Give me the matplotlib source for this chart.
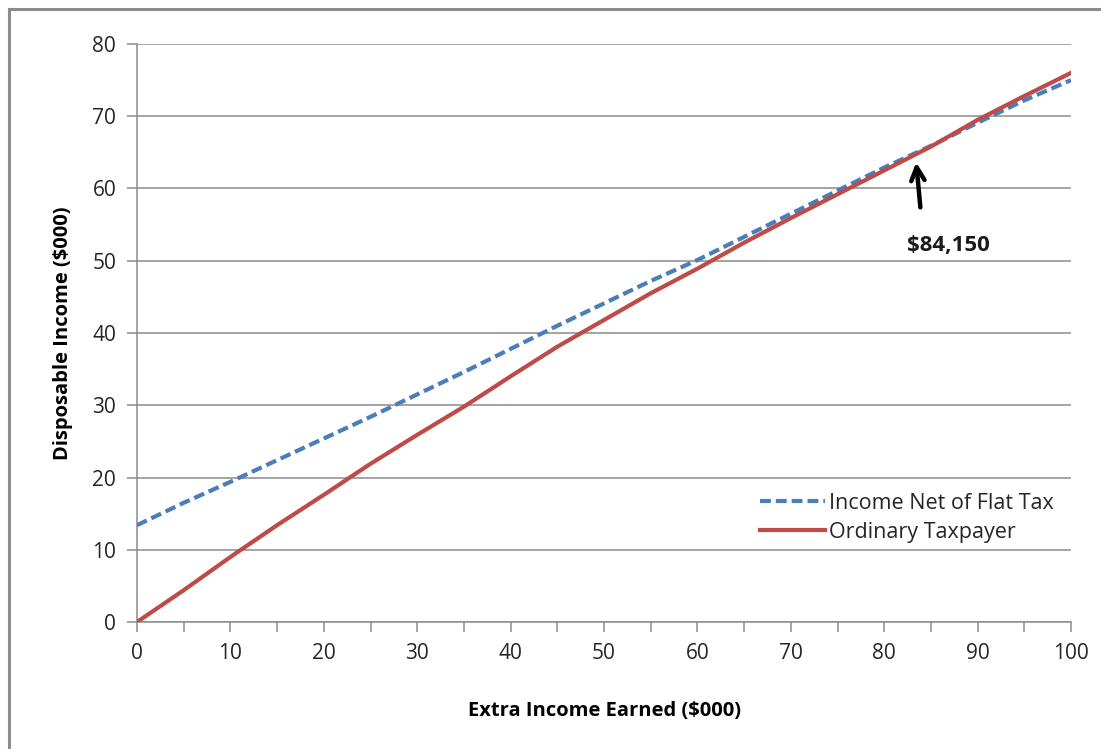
import matplotlib.pyplot as plt
from matplotlib.lines import Line2D

plt.rcParams['font.family'] = ['Open Sans', 'DejaVu Sans']

# Extra income earned ($000)
extra_income = [0, 5, 10, 15, 20, 25, 30, 35, 40, 45, 50,
                55, 60, 65, 70, 75, 80, 85, 90, 95, 100]
# Disposable income ($000)
flat_tax_net = [13.4, 16.5, 19.4, 22.4, 25.4, 28.4, 31.5, 34.6, 37.8, 41.0, 44.1,
                47.2, 50.1, 53.3, 56.5, 59.7, 62.9, 65.9, 69.1, 72.2, 75.0]
ordinary = [0.0, 4.4, 9.0, 13.4, 17.6, 21.9, 25.9, 29.8, 34.0, 38.1, 41.8,
            45.5, 48.9, 52.5, 55.9, 59.2, 62.5, 65.8, 69.5, 72.8, 76.0]

labels = ["Income Net of Flat Tax", "Ordinary Taxpayer"]
crossover_x = 84.15

fig = plt.figure(figsize=(11.01, 7.49), dpi=100)
ax = fig.add_axes([137 / 1101, 1 - 622 / 749, 934 / 1101, 578 / 749])

# outer chart frame (left and top edges)
fig.add_artist(Line2D([9 / 1101, 9 / 1101], [0, 1 - 9 / 749], color="#8c8c8c", lw=2.2))
fig.add_artist(Line2D([9 / 1101, 1], [1 - 9 / 749, 1 - 9 / 749], color="#8c8c8c", lw=2.2))

blue = "#4a7ebb"
red = "#be4b48"
dash = (2.6, 1.2)
ax.plot(extra_income, flat_tax_net, color=blue, lw=3.0, dashes=dash, zorder=3)
ax.plot(extra_income, ordinary, color=red, lw=3.0, zorder=4)

ax.set_xlim(0, 100)
ax.set_ylim(0, 80)
ax.set_xticks(range(0, 101, 10))
ax.set_xticks(range(0, 101, 5), minor=True)
ax.set_yticks(range(0, 81, 10))
ax.grid(axis="y", color="#8c8c8c", lw=1.1)
ax.set_axisbelow(True)

for s in ("top", "right"):
    ax.spines[s].set_visible(False)
for s in ("left", "bottom"):
    ax.spines[s].set_color("#8c8c8c")
    ax.spines[s].set_linewidth(1.1)

ax.tick_params(axis="both", which="both", colors="#8c8c8c", width=1.1,
               labelcolor="#262626", labelsize=15)
ax.tick_params(axis="x", which="both", length=7, direction="out", pad=8)
ax.tick_params(axis="x", which="minor", labelbottom=False)
ax.tick_params(axis="y", length=7, pad=8)

ax.set_xlabel("Extra Income Earned ($000)", fontsize=14.5, fontweight="bold",
              labelpad=27)
ax.set_ylabel("Disposable Income ($000)", fontsize=14.5, fontweight="bold",
              labelpad=14)

ax.annotate("", xy=(83.4, 64.0), xytext=(83.9, 57.0),
            arrowprops=dict(arrowstyle="->", color="black", lw=3.2,
                            mutation_scale=24))
ax.text(86.9, 52.1, f"${crossover_x * 1000:,.0f}", fontsize=16,
        fontweight="bold", ha="center", va="center", color="#1a1a1a")

handles = [Line2D([], [], color=blue, lw=3.0, dashes=dash),
           Line2D([], [], color=red, lw=3.0)]
leg = ax.legend(handles, labels, loc="upper left",
                bbox_to_anchor=((760 - 137) / 934, (622 - 493) / 578),
                frameon=False, fontsize=15.5, handlelength=3.0, handletextpad=0.2,
                labelspacing=0.35, borderaxespad=0, borderpad=0)
for t in leg.get_texts():
    t.set_color("#262626")

fig.savefig("out.png", dpi=100)
